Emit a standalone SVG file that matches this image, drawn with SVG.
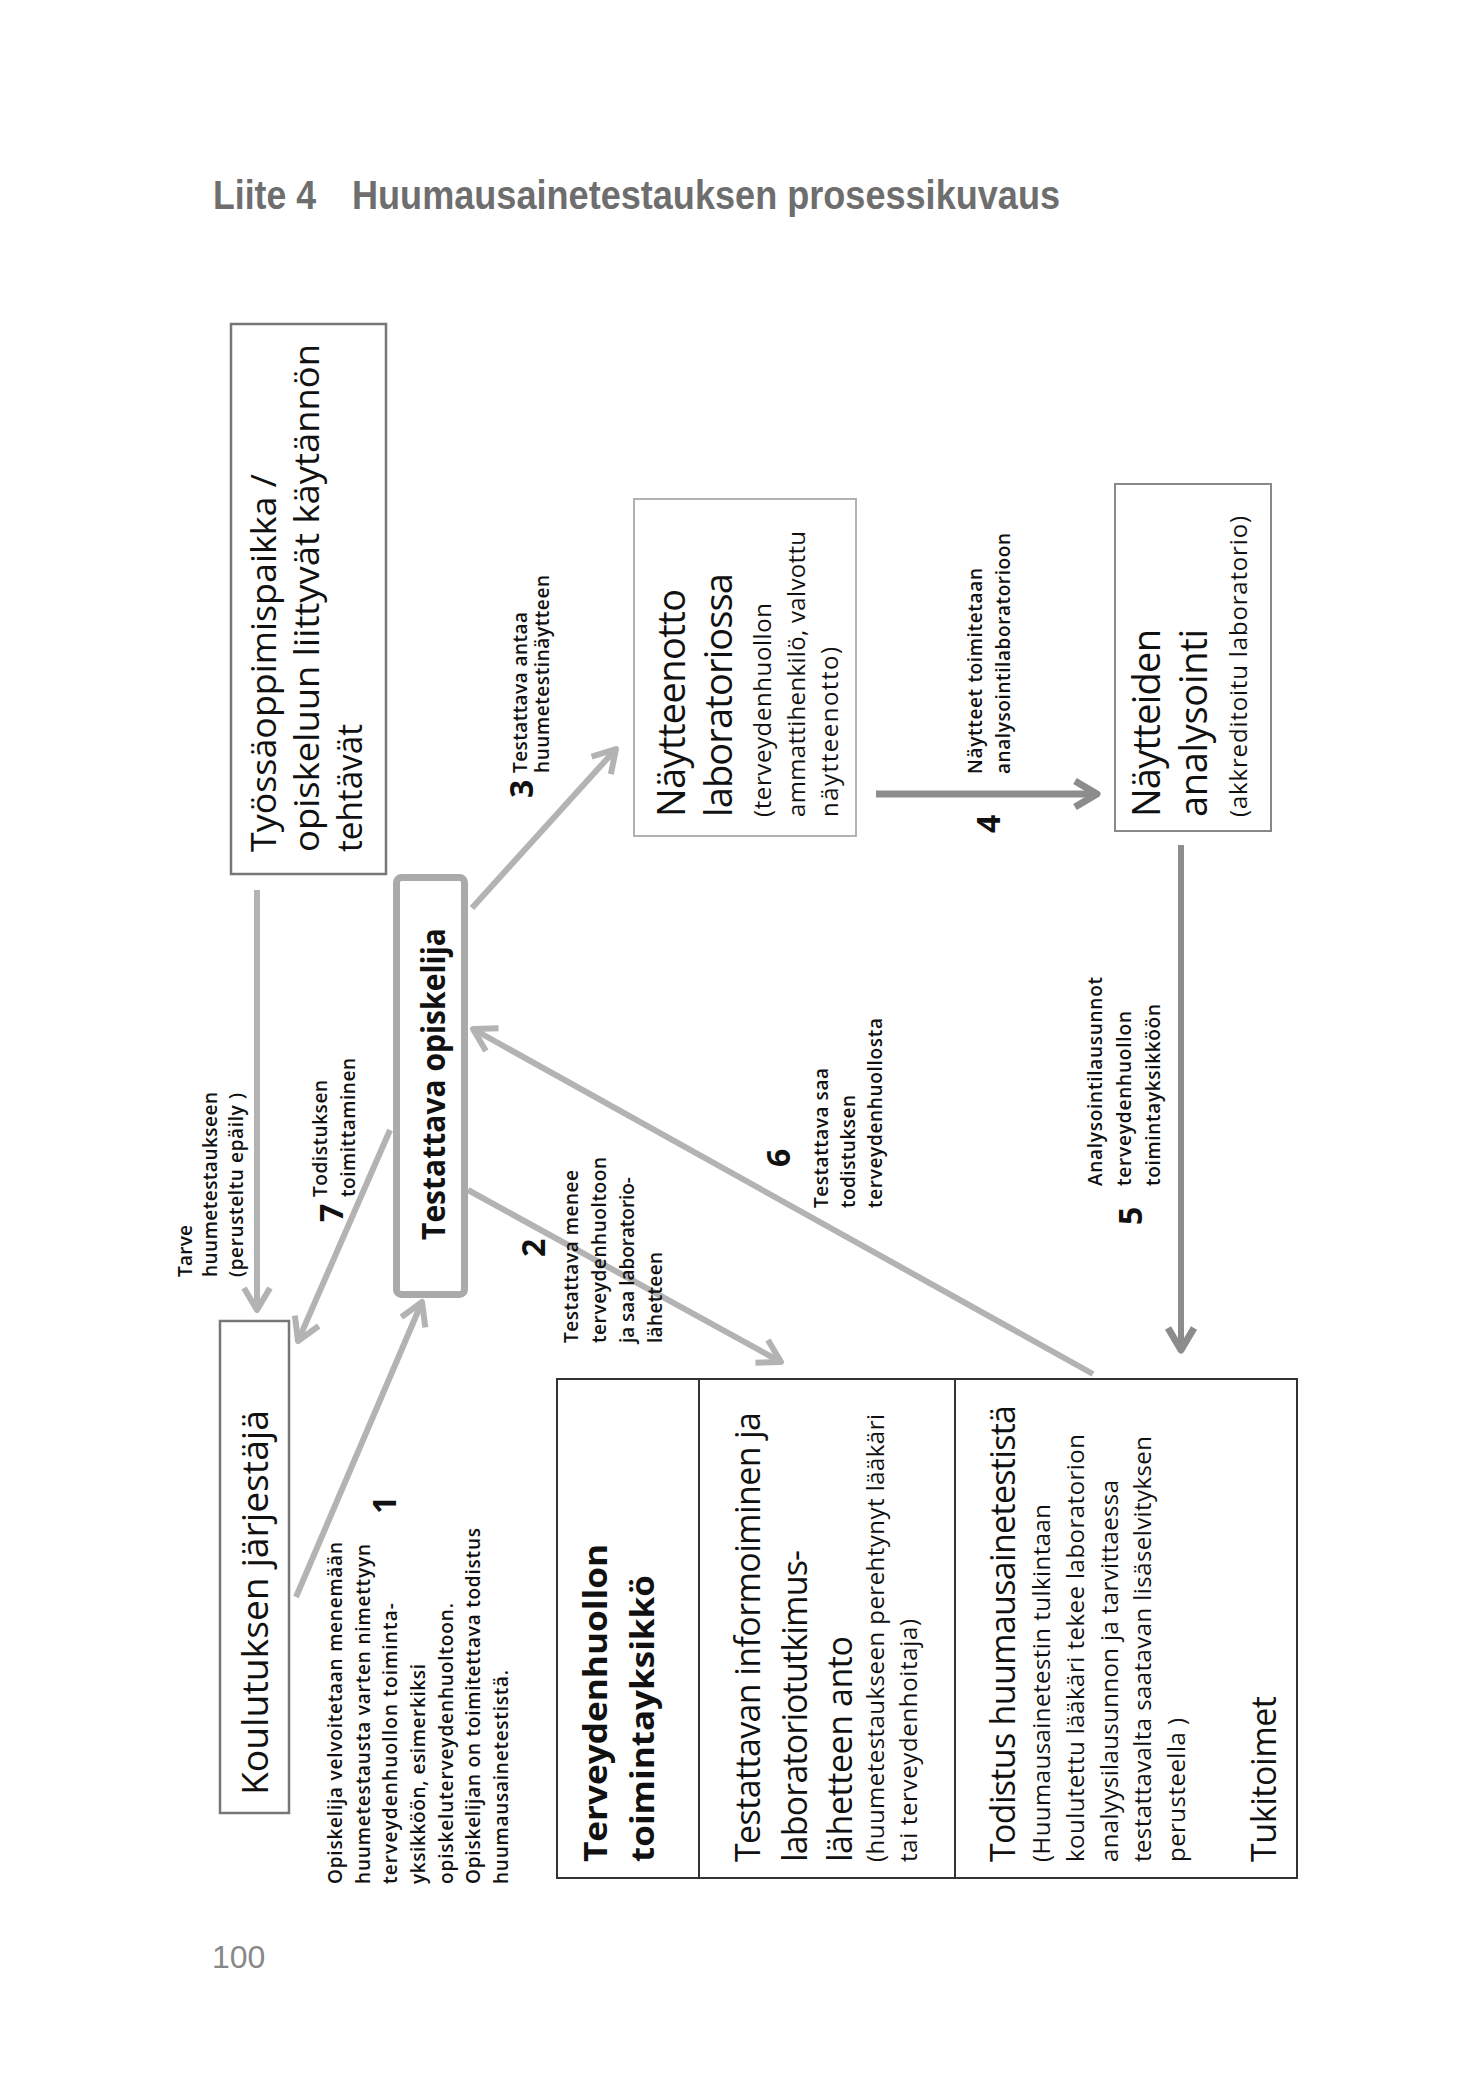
<svg xmlns="http://www.w3.org/2000/svg" width="1472" height="2082" viewBox="0 0 1472 2082">
<style>
  text { font-family: "Open Sans", "Noto Sans", "Liberation Sans", sans-serif; fill: #111; }
  .title { font-family: "Liberation Sans", Arial, sans-serif; font-weight: bold; fill: #6e6e6e; font-size: 40px; }
  .page { font-family: "Liberation Sans", Arial, sans-serif; fill: #888; font-size: 32px; }
  .big { font-size: 34px; }
  .bold { font-weight: bold; }
  .sm { font-size: 24px; }
  .lbl { font-size: 19px; font-weight: 600; }
  .num { font-size: 32px; font-weight: bold; }
  .box { fill: #fff; }
  .light { stroke: #b3b3b3; stroke-width: 6; fill: none; }
  .dark { stroke: #8c8c8c; stroke-width: 7; fill: none; }
</style>
<defs>
  <marker id="ahL" markerUnits="userSpaceOnUse" markerWidth="34" markerHeight="34" refX="26" refY="16" orient="auto" overflow="visible">
    <path d="M4,3 L26,16 L4,29" fill="none" stroke="#b3b3b3" stroke-width="6" stroke-linejoin="round"/>
  </marker>
  <marker id="ahD" markerUnits="userSpaceOnUse" markerWidth="34" markerHeight="34" refX="26" refY="16" orient="auto" overflow="visible">
    <path d="M4,3 L26,16 L4,29" fill="none" stroke="#8c8c8c" stroke-width="7" stroke-linejoin="round"/>
  </marker>
</defs>
<rect width="1472" height="2082" fill="#fff"/>

<g id="title">
  <text class="title" x="213" y="209" textLength="103" lengthAdjust="spacingAndGlyphs">Liite 4</text>
  <text class="title" x="352" y="209" textLength="708" lengthAdjust="spacingAndGlyphs">Huumausainetestauksen prosessikuvaus</text>
</g>
<g id="page-number">
  <text class="page" x="212" y="1968">100</text>
</g>

<g id="connectors">
  <line class="light" x1="257" y1="890" x2="257" y2="1310" marker-end="url(#ahL)"/>
  <line class="light" x1="390" y1="1130" x2="298" y2="1341" marker-end="url(#ahL)"/>
  <line class="light" x1="296" y1="1597" x2="422" y2="1302" marker-end="url(#ahL)"/>
  <line class="light" x1="468" y1="1190" x2="781" y2="1362" marker-end="url(#ahL)"/>
  <line class="light" x1="472" y1="908" x2="616" y2="749" marker-end="url(#ahL)"/>
  <line class="light" x1="1093" y1="1374" x2="473" y2="1029" marker-end="url(#ahL)"/>
  <line class="dark" x1="876" y1="794" x2="1097" y2="794" marker-end="url(#ahD)"/>
  <line class="dark" x1="1181" y1="845" x2="1181" y2="1350" marker-end="url(#ahD)" style="stroke-width:6"/>
</g>

<g id="node-tyossaoppimispaikka">
  <rect class="box" x="231" y="324" width="155" height="550" stroke="#777" stroke-width="2.5"/>
  <text class="big" transform="translate(276,852) rotate(-90)" textLength="378" lengthAdjust="spacingAndGlyphs">Työssäoppimispaikka /</text>
  <text class="big" transform="translate(319,852) rotate(-90)" textLength="508" lengthAdjust="spacingAndGlyphs">opiskeluun liittyvät käytännön</text>
  <text class="big" transform="translate(362,852) rotate(-90)" textLength="128" lengthAdjust="spacingAndGlyphs">tehtävät</text>
</g>

<g id="node-testattava">
  <rect class="box" x="396.5" y="877.5" width="68" height="417" rx="5" stroke="#aaaaaa" stroke-width="7"/>
  <text class="bold" style="font-size:33px" transform="translate(445,1240) rotate(-90)" textLength="312" lengthAdjust="spacingAndGlyphs">Testattava opiskelija</text>
</g>

<g id="node-koulutuksen">
  <rect class="box" x="220" y="1321" width="69" height="492" stroke="#777" stroke-width="2.5"/>
  <text style="font-size:36px" transform="translate(268,1795) rotate(-90)" textLength="385" lengthAdjust="spacingAndGlyphs">Koulutuksen järjestäjä</text>
</g>

<g id="node-naytteenotto">
  <rect class="box" x="634" y="499" width="222" height="337" stroke="#aaaaaa" stroke-width="1.8"/>
  <text style="font-size:38px" transform="translate(685,817) rotate(-90)" textLength="228">Näytteenotto</text>
  <text style="font-size:38px" transform="translate(732,817) rotate(-90)" textLength="244">laboratoriossa</text>
  <text class="sm" transform="translate(771,817) rotate(-90)" textLength="214">(terveydenhuollon</text>
  <text class="sm" transform="translate(805,817) rotate(-90)" textLength="286">ammattihenkilö, valvottu</text>
  <text class="sm" transform="translate(838,817) rotate(-90)" textLength="170">näytteenotto)</text>
</g>

<g id="node-analysointi">
  <rect class="box" x="1115" y="484" width="156" height="347" stroke="#888" stroke-width="2"/>
  <text style="font-size:38px" transform="translate(1160,817) rotate(-90)" textLength="188">Näytteiden</text>
  <text style="font-size:38px" transform="translate(1207,817) rotate(-90)" textLength="188">analysointi</text>
  <text class="sm" transform="translate(1247,817) rotate(-90)" textLength="301">(akkreditoitu laboratorio)</text>
</g>

<g id="node-terveydenhuolto">
  <rect class="box" x="557" y="1379" width="740" height="499" stroke="#333" stroke-width="2"/>
  <line x1="699" y1="1379" x2="699" y2="1878" stroke="#333" stroke-width="2"/>
  <line x1="955" y1="1379" x2="955" y2="1878" stroke="#333" stroke-width="2"/>
  <text class="bold" style="font-size:33px" transform="translate(607,1862) rotate(-90)" textLength="318" lengthAdjust="spacingAndGlyphs">Terveydenhuollon</text>
  <text class="bold" style="font-size:33px" transform="translate(654,1862) rotate(-90)" textLength="287" lengthAdjust="spacingAndGlyphs">toimintayksikkö</text>
  <text class="big" transform="translate(760,1862) rotate(-90)" textLength="450">Testattavan informoiminen ja</text>
  <text class="big" transform="translate(807,1862) rotate(-90)" textLength="312">laboratoriotutkimus-</text>
  <text class="big" transform="translate(852,1862) rotate(-90)" textLength="226">lähetteen anto</text>
  <text class="sm" transform="translate(884,1862) rotate(-90)" textLength="448">(huumetestaukseen perehtynyt lääkäri</text>
  <text class="sm" transform="translate(917,1862) rotate(-90)" textLength="243">tai terveydenhoitaja)</text>
  <text class="big" transform="translate(1015,1862) rotate(-90)" textLength="457">Todistus huumausainetestistä</text>
  <text class="sm" transform="translate(1050,1862) rotate(-90)" textLength="358">(Huumausainetestin tulkintaan</text>
  <text class="sm" transform="translate(1084,1862) rotate(-90)" textLength="428">koulutettu lääkäri tekee laboratorion</text>
  <text class="sm" transform="translate(1118,1862) rotate(-90)" textLength="382">analyysilausunnon ja tarvittaessa</text>
  <text class="sm" transform="translate(1151,1862) rotate(-90)" textLength="426">testattavalta saatavan lisäselvityksen</text>
  <text class="sm" transform="translate(1185,1862) rotate(-90)" textLength="144">perusteella )</text>
  <text class="big" transform="translate(1276,1862) rotate(-90)" textLength="166">Tukitoimet</text>
</g>

<g id="labels">
  <text class="lbl" transform="translate(192,1277) rotate(-90)" textLength="52">Tarve</text>
  <text class="lbl" transform="translate(217,1277) rotate(-90)" textLength="185">huumetestaukseen</text>
  <text class="lbl" transform="translate(243,1277) rotate(-90)" textLength="184">(perusteltu epäily )</text>

  <text class="num" transform="translate(343,1222) rotate(-90)">7</text>
  <text class="lbl" transform="translate(327,1197) rotate(-90)" textLength="117">Todistuksen</text>
  <text class="lbl" transform="translate(355,1197) rotate(-90)" textLength="139">toimittaminen</text>

  <text class="num" transform="translate(396,1514) rotate(-90)">1</text>
  <text class="lbl" transform="translate(342,1884) rotate(-90)" textLength="342">Opiskelija velvoitetaan menemään</text>
  <text class="lbl" transform="translate(370,1884) rotate(-90)" textLength="340">huumetestausta varten nimettyyn</text>
  <text class="lbl" transform="translate(397,1884) rotate(-90)" textLength="281">terveydenhuollon toiminta-</text>
  <text class="lbl" transform="translate(425,1884) rotate(-90)" textLength="220">yksikköön, esimerkiksi</text>
  <text class="lbl" transform="translate(453,1884) rotate(-90)" textLength="281">opiskeluterveydenhuoltoon.</text>
  <text class="lbl" transform="translate(480,1884) rotate(-90)" textLength="356">Opiskelijan on toimitettava todistus</text>
  <text class="lbl" transform="translate(508,1884) rotate(-90)" textLength="214">huumausainetestistä.</text>

  <text class="num" transform="translate(545,1257) rotate(-90)">2</text>
  <text class="lbl" transform="translate(578,1343) rotate(-90)" textLength="173">Testattava menee</text>
  <text class="lbl" transform="translate(606,1343) rotate(-90)" textLength="186">terveydenhuoltoon</text>
  <text class="lbl" transform="translate(634,1343) rotate(-90)" textLength="166">ja saa laboratorio-</text>
  <text class="lbl" transform="translate(662,1343) rotate(-90)" textLength="91">lähetteen</text>

  <text class="num" transform="translate(533,798) rotate(-90)">3</text>
  <text class="lbl" transform="translate(527,773) rotate(-90)" textLength="161">Testattava antaa</text>
  <text class="lbl" transform="translate(549,773) rotate(-90)" textLength="198">huumetestinäytteen</text>

  <text class="num" transform="translate(1000,833) rotate(-90)">4</text>
  <text class="lbl" transform="translate(982,774) rotate(-90)" textLength="206">Näytteet toimitetaan</text>
  <text class="lbl" transform="translate(1010,774) rotate(-90)" textLength="241">analysointilaboratorioon</text>

  <text class="num" transform="translate(1142,1225) rotate(-90)">5</text>
  <text class="lbl" transform="translate(1102,1186) rotate(-90)" textLength="209">Analysointilausunnot</text>
  <text class="lbl" transform="translate(1131,1186) rotate(-90)" textLength="175">terveydenhuollon</text>
  <text class="lbl" transform="translate(1160,1186) rotate(-90)" textLength="182">toimintayksikköön</text>

  <text class="num" transform="translate(790,1167) rotate(-90)">6</text>
  <text class="lbl" transform="translate(828,1208) rotate(-90)" textLength="140">Testattava saa</text>
  <text class="lbl" transform="translate(855,1208) rotate(-90)" textLength="113">todistuksen</text>
  <text class="lbl" transform="translate(882,1208) rotate(-90)" textLength="190">terveydenhuollosta</text>
</g>
</svg>
